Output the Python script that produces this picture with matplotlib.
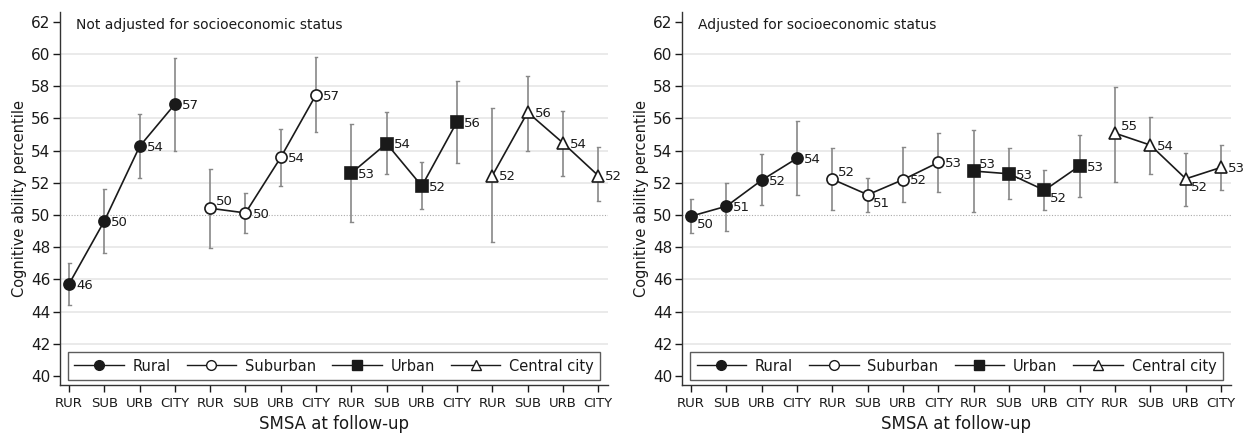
import matplotlib
matplotlib.use("Agg")
import matplotlib.pyplot as plt
from matplotlib.lines import Line2D

plt.rcParams['font.family'] = ['DejaVu Sans']

# ---------------- data ----------------
tick_labels = ['RUR', 'SUB', 'URB', 'CITY'] * 4
groups = ['Rural', 'Suburban', 'Urban', 'Central city']
panel_titles = ['Not adjusted for socioeconomic status', 'Adjusted for socioeconomic status']

# Not adjusted (16 points: 4 groups x 4 follow-up SMSA)
nadj_mean = [45.73, 49.64, 54.27, 56.89,
             50.42, 50.13, 53.58, 57.47,
             52.60, 54.44, 51.80, 55.80,
             52.45, 56.38, 54.48, 52.45]
nadj_lo = [44.40, 47.64, 52.30, 53.98,
           47.95, 48.88, 51.78, 55.14,
           49.58, 52.53, 50.36, 53.24,
           48.32, 53.98, 52.42, 50.88]
nadj_hi = [47.00, 51.60, 56.27, 59.78,
           52.87, 51.37, 55.37, 59.84,
           55.68, 56.38, 53.27, 58.35,
           56.62, 58.64, 56.44, 54.21]

# Adjusted
adj_mean = [49.93, 50.55, 52.17, 53.53,
            52.22, 51.26, 52.20, 53.27,
            52.73, 52.56, 51.54, 53.06,
            55.08, 54.34, 52.25, 52.96]
adj_lo = [48.86, 49.02, 50.61, 51.23,
          50.34, 50.21, 50.79, 51.45,
          50.21, 50.98, 50.30, 51.12,
          52.07, 52.56, 50.55, 51.54]
adj_hi = [51.02, 52.00, 53.80, 55.86,
          54.17, 52.32, 54.21, 55.10,
          55.26, 54.17, 52.81, 55.00,
          57.98, 56.07, 53.86, 54.32]

# label clock positions (style)
nadj_lpos = [3, 3, 3, 3, 2, 3, 3, 3, 3, 3, 3, 3, 3, 3, 3, 3]
adj_lpos = [4, 3, 3, 3, 2, 4, 3, 3, 2, 3, 4, 3, 2, 3, 4, 3]

# ---------------- styles ----------------
markers = ['o', 'o', 's', '^']
faces = ['#1a1a1a', 'white', '#1a1a1a', 'white']
msizes = [8, 8, 8, 9]
offsets = {3: (5, -1), 2: (4, 5), 4: (4, -6)}
txt = '#1a1a1a'

fig = plt.figure(figsize=(12.55, 4.33), dpi=100)
ax_specs = [[0.0478, 0.111, 0.4367, 0.861], [0.5434, 0.111, 0.4375, 0.861]]
panels = [(nadj_mean, nadj_lo, nadj_hi, nadj_lpos), (adj_mean, adj_lo, adj_hi, adj_lpos)]

for pi, (mean, lo, hi, lpos) in enumerate(panels):
    ax = fig.add_axes(ax_specs[pi])
    ax.set_xlim(0.74, 16.28)
    ax.set_ylim(39.45, 62.6)
    for y in range(42, 61, 2):
        if y == 50:
            continue
        ax.axhline(y, color='#e6e6e6', lw=1.2, zorder=0)
    ax.axhline(50, color='#aaaaaa', lw=0.8, ls=(0, (1, 1.5)), zorder=0.5)

    for g in range(4):
        idx = list(range(g * 4, g * 4 + 4))
        xs = [i + 1 for i in idx]
        ys = [mean[i] for i in idx]
        ax.vlines(xs, [lo[i] for i in idx], [hi[i] for i in idx], color='#888888', lw=1.2, zorder=1)
        for i in idx:
            for yv in (lo[i], hi[i]):
                ax.plot([i + 1 - 0.04, i + 1 + 0.04], [yv, yv], color='#888888', lw=1.0, zorder=1)
        ax.plot(xs, ys, color='#1a1a1a', lw=1.2, zorder=2)
        ax.plot(xs, ys, ls='none', marker=markers[g], ms=msizes[g], mfc=faces[g],
                mec='#1a1a1a', mew=1.2, zorder=3)
        for i in idx:
            ax.annotate(str(int(round(mean[i]))), (i + 1, mean[i]),
                        xytext=offsets[lpos[i]], textcoords='offset points',
                        ha='left', va='center', fontsize=9.5, color=txt, zorder=4)

    ax.set_xticks(range(1, 17))
    ax.set_xticklabels(tick_labels, fontsize=9.5, color=txt)
    ax.set_yticks(range(40, 63, 2))
    ax.tick_params(axis='y', labelsize=11, colors=txt, length=5, width=1, direction='out', pad=2)
    ax.tick_params(axis='x', length=5, width=1, direction='out', pad=4, colors=txt)
    for s in ['top', 'right']:
        ax.spines[s].set_visible(False)
    for s in ['left', 'bottom']:
        ax.spines[s].set_color('#333333')
        ax.spines[s].set_linewidth(1.0)
    ax.set_xlabel('SMSA at follow-up', fontsize=12, color=txt, labelpad=3)
    ax.set_ylabel('Cognitive ability percentile', fontsize=10.5, color=txt, labelpad=3)
    ax.text(0.03, 0.985, panel_titles[pi], transform=ax.transAxes, ha='left', va='top',
            fontsize=10, color=txt)

    handles = [Line2D([0], [0], color='#1a1a1a', lw=1.0, marker=markers[g], ms=7,
                      mfc=faces[g], mec='#1a1a1a', mew=1.0) for g in range(4)]
    leg = ax.legend(handles, groups, loc='lower center', ncol=4, frameon=True,
                    fontsize=10.5, handlelength=3.4, columnspacing=1.1, handletextpad=0.6,
                    bbox_to_anchor=(0.5, 0.013), borderaxespad=0.0,
                    fancybox=False, borderpad=0.45)
    leg.get_frame().set_edgecolor('#333333')
    leg.get_frame().set_linewidth(1.0)
    for t in leg.get_texts():
        t.set_color(txt)

fig.savefig('out.png', dpi=100)
